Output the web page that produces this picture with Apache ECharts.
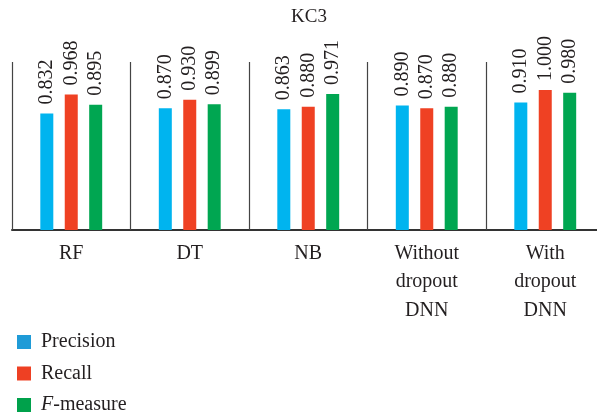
<!DOCTYPE html>
<html>
<head>
<meta charset="utf-8">
<script src="https://cdn.jsdelivr.net/npm/echarts@6/dist/echarts.min.js"></script>
<style>
  html, body { margin: 0; padding: 0; background: #fff; overflow: hidden; }
  #chart { width: 605px; height: 415px; }
</style>
</head>
<body>
<div id="chart"></div>
<script>
// KC3 results per classifier
const categories = ['RF', 'DT', 'NB', 'Without\ndropout\nDNN', 'With\ndropout\nDNN'];
const precision = [0.832, 0.870, 0.863, 0.890, 0.910];
const recall    = [0.968, 0.930, 0.880, 0.870, 1.000];
const fMeasure  = [0.895, 0.899, 0.971, 0.880, 0.980];

const FONT = 'Liberation Serif';
const TEXT = '#231f20';

const barColors = { Precision: '#00b4ef', Recall: '#ef4123', 'F-measure': '#00a651' };
const legendColors = { Precision: '#1f9bd7', Recall: '#ee4023', 'F-measure': '#00a14b' };

function barSeries(name, values) {
  return {
    name: name,
    type: 'bar',
    data: values,
    barWidth: 13,
    barGap: '88%',
    itemStyle: { color: barColors[name] },
    label: {
      show: true,
      position: 'top',
      distance: 9,
      rotate: 90,
      align: 'left',
      verticalAlign: 'middle',
      fontFamily: FONT,
      fontSize: 20,
      color: TEXT,
      formatter: p => p.value.toFixed(3)
    }
  };
}

const chart = echarts.init(document.getElementById('chart'), null, { renderer: 'canvas' });
chart.setOption({
  animation: false,
  title: {
    text: 'KC3',
    left: 286,
    top: 3,
    textStyle: { fontFamily: FONT, fontSize: 19, fontWeight: 'normal', color: TEXT }
  },
  legend: {
    orient: 'vertical',
    left: 12,
    top: 327,
    height: 120,
    itemWidth: 14,
    itemHeight: 14,
    itemGap: 11.5,
    icon: 'rect',
    data: ['Precision', 'Recall', 'F-measure'].map(n => ({ name: n, itemStyle: { color: legendColors[n] } })),
    formatter: n => n === 'F-measure' ? '{i|F}{t|-measure}' : '{t|' + n + '}',
    textStyle: {
      fontFamily: FONT, fontSize: 20, color: TEXT,
      rich: {
        t: { fontFamily: FONT, fontSize: 20, color: TEXT },
        i: { fontFamily: FONT, fontSize: 20, color: TEXT, fontStyle: 'italic' }
      },
      padding: [0, 0, 0, 5]
    }
  },
  grid: { left: 12, right: 0.5, top: 62, bottom: 185 },
  xAxis: {
    type: 'category',
    data: categories,
    axisLine: { lineStyle: { color: '#333', width: 2 } },
    axisTick: { show: true, inside: true, length: 168, lineStyle: { color: '#444', width: 1.2 } },
    axisLabel: { fontFamily: FONT, fontSize: 20, color: TEXT, lineHeight: 28.5, margin: 9, interval: 0 }
  },
  yAxis: {
    type: 'value',
    min: 0,
    max: 1.2,
    show: false
  },
  series: [
    barSeries('Precision', precision),
    barSeries('Recall', recall),
    barSeries('F-measure', fMeasure)
  ]
});
</script>
</body>
</html>
